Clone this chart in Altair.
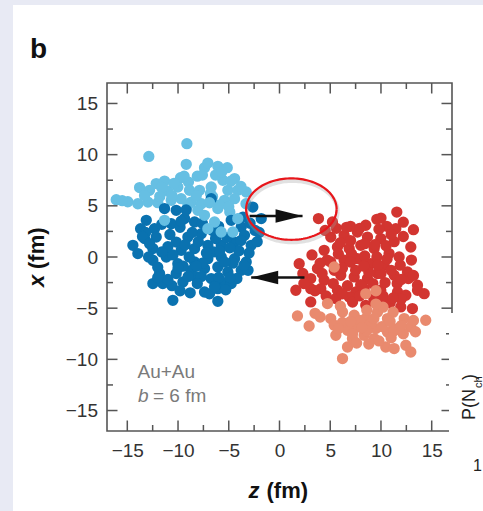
import altair as alt
import numpy as np
import pandas as pd

# Nucleon positions (z, x) in fm for the two Au nuclei, b = 6 fm
# left nucleus, spectator nucleons (drawn behind)
lb_z = [-9.13, -12.88, -9.19, -7.39, -7.06, -6.08, -5.15, -9.75, -8.97, -12.15,
        -11.33, -13.79, -12.81, -11.0, -10.02, -8.87, -7.88, -6.73, -5.58, -4.43,
        -5.09, -4.11, -3.28, -16.09, -14.95, -13.96, -12.97, -11.99, -10.67, -9.69,
        -8.7, -7.7, -5.42, -4.43, -9.03, -6.08, -8.05, -3.3, -6.6, -4.9,
        -8.1, -10.6, -6.3,
        -15.5, -13.3, -11.6, -10.4, -9.4, -7.6, -5.7, -4.8, -3.8, -11.8,
        -8.2, -6.8, -5.9]
lb_x = [11.07, 9.83, 9.05, 8.73, 9.18, 8.86, 8.73, 7.75, 7.32, 7.17,
        7.42, 6.78, 6.51, 6.45, 6.84, 6.51, 6.51, 6.84, 7.49, 7.66,
        6.51, 6.51, 6.35, 5.6, 5.4, 5.2, 5.37, 5.31, 5.54, 5.7,
        5.37, 5.2, 5.54, 5.7, 5.05, 4.73, 4.56, 5.2, 5.9, 4.4,
        7.9, 6.0, 8.0,
        5.5, 6.0, 6.8, 7.2, 7.9, 8.0, 8.3, 7.4, 6.9, 5.9,
        6.0, 6.2, 5.1]

# left nucleus, participant nucleons
db_z = [-6.73, -11.33, -10.18, -13.13, -13.69, -12.32, -10.67, -9.36, -8.37, -4.76,
        -3.77, -2.63, -1.8, -14.45, -13.3, -12.15, -13.96, -12.48, -12.48, -11.16,
        -10.18, -9.03, -7.71, -9.69, -8.37, -7.06, -5.74, -4.43, -3.45, -2.79,
        -3.28, -4.43, -5.74, -7.06, -8.37, -10.02, -11.82, -10.18, -8.7, -7.39,
        -6.08, -5.09, -3.77, -12.48, -11.5, -9.52, -8.21, -6.73, -5.75, -4.76,
        -7.39, -6.08, -10.51, -6.08,
        -9.5, -6.5, -5.2, -8.0, -9.8, -11.0, -6.0, -4.6, -3.0, -7.7,
        -9.0, -10.6, -8.8, -6.9, -5.3, -12.9, -2.4, -2.2, -3.6, -7.6,
        -10.8, -8.9, -6.3, -4.0, -11.6, -3.1, -9.2, -7.6, -12.0, -13.2,
        -4.2, -5.4,
        -13.5, -12.8, -11.6, -10.5, -9.3, -8.6, -6.6, -5.9, -4.9, -3.8,
        -3.5, -4.9, -6.4, -8.1, -9.8, -11.0, -12.0, -10.0, -7.2, -8.2,
        -2.9, -2.0, -6.0, -9.7]
db_x = [5.7, 4.73, 4.56, 3.58, 2.77, 2.77, 3.26, 3.75, 3.42, 3.58,
        2.93, 4.88, 3.75, 1.14, 1.8, 1.95, 0.33, 0.82, -0.32, 0.0,
        1.46, 1.95, 2.28, 0.65, 0.82, 1.14, 1.14, 1.46, 2.12, 1.14,
        -0.49, -0.16, 0.0, -0.16, -0.49, -0.65, -1.62, -1.62, -1.3, -1.13,
        -0.98, -1.46, -1.3, -2.6, -2.6, -2.44, -1.95, -2.11, -2.44, -2.6,
        -3.42, -3.09, -4.23, -4.33,
        -0.9, 0.5, 1.9, 1.5, 2.9, 1.0, -2.0, -0.6, 0.4, -1.9,
        -1.9, -2.8, -3.5, -3.6, -3.2, 0.0, 2.6, 1.5, 3.9, -0.6,
        2.2, 0.0, 1.8, 0.6, 3.2, -1.3, 4.6, 3.3, -1.0, 2.4,
        -2.1, -0.5,
        2.0, 1.3, 0.5, 0.2, 1.2, 2.4, 2.6, 0.6, 0.9, 1.6,
        -0.8, -2.0, -2.9, -2.6, -3.3, -2.2, -2.0, -1.1, 0.4, -0.9,
        3.3, 2.4, 3.0, 3.5]

# left nucleus, spectators lying in front of the participants
lf_z = [-11.33, -7.39, -6.4, -5.75, -7.06, -4.6, -4.11, -5.0, -6.9]
lf_x = [3.58, 4.07, 3.42, 2.44, 2.77, 2.44, 3.75, 4.9, 5.3]

# right nucleus, participant nucleons
dr_z = [3.84, 11.56, 9.59, 10.57, 11.46, 13.2, 12.94, 5.22, 5.05, 6.37,
        7.68, 8.67, 9.98, 4.4, 5.71, 6.87, 8.01, 9.33, 10.8, 11.79,
        1.94, 3.74, 5.05, 6.37, 7.68, 8.99, 10.31, 12.61, 3.08, 4.4,
        6.04, 7.36, 8.67, 9.66, 11.3, 13.6,
        1.61, 3.08, 4.07, 5.71, 7.52, 8.34, 9.98, 11.63, 12.45, 13.6,
        14.26, 3.08, 5.55, 6.87, 8.5, 10.31, 11.95, 13.1,
        6.0, 7.0, 8.4, 9.4, 10.5, 11.3, 4.7, 5.8, 7.1, 8.4,
        9.6, 10.6, 11.9, 4.2, 5.3, 6.7, 8.0, 9.2, 10.4, 11.6,
        12.7, 2.4, 4.6, 7.2, 9.3, 10.9, 6.2, 7.5, 8.8, 10.0,
        5.6, 7.0, 8.5, 12.2, 11.0, 13.0, 12.0,
        4.5, 6.6, 7.9, 9.8, 10.0, 12.2, 3.2, 4.0, 5.4, 7.0,
        8.3, 9.7, 11.0, 12.0, 13.2, 3.5, 6.2, 7.9, 10.2, 11.2,
        2.3]
dr_x = [3.75, 4.39, 3.68, 3.0, 2.77, 2.67, 0.98, 3.42, 1.95, 2.12,
        2.44, 1.95, 1.8, 0.65, 0.98, 0.82, 1.14, 0.82, 0.33, 0.0,
        -0.65, -1.13, -0.49, -0.32, -0.16, -0.65, -0.81, -1.46, -2.11, -2.27,
        -1.79, -1.95, -2.11, -1.62, -1.79, -2.76,
        -3.25, -3.09, -3.09, -3.25, -3.42, -3.09, -3.25, -3.42, -3.74, -3.25,
        -3.58, -4.39, -4.06, -3.9, -4.72, -4.23, -4.88, -5.04,
        1.4, 1.6, 1.3, 1.2, 1.1, 1.5, -0.3, 0.3, 0.3, 0.1,
        0.0, -0.2, -0.8, -1.6, -2.6, -2.8, -2.7, -2.6, -2.5, -2.6,
        -2.1, -2.6, -3.8, -4.4, -4.1, -4.5, -1.1, -1.3, -1.5, -1.6,
        2.8, 3.0, 3.1, 2.0, 2.2, -0.3, -4.1,
        2.6, 2.9, 2.8, 2.7, 3.8, 3.4, 0.2, -0.6, -1.3, -0.5,
        -0.9, -0.8, -1.3, -2.2, -1.8, -3.3, -3.6, -3.8, -3.8, -4.0,
        -1.6]

# right nucleus, spectator nucleons
sa_z = [5.39, 1.77, 2.92, 4.01, 5.05, 4.73, 6.21, 7.36, 8.5, 9.66,
        10.64, 12.29, 14.41, 5.55, 6.7, 7.68, 9.49, 10.64, 6.7, 6.21,
        10.47, 11.3, 12.45, 12.94, 5.39, 8.34, 9.33, 7.19, 11.63, 12.94,
        6.2, 7.9, 9.0, 10.1, 11.3, 8.6, 7.2, 9.8, 11.0, 8.8,
        7.6, 12.2, 13.4, 6.0, 8.6, 11.2, 10.2, 9.5, 8.5, 9.5,
        3.5, 5.8, 7.0, 8.1, 9.3, 10.9, 12.0, 13.2]
sa_x = [-0.98, -5.76, -6.74, -5.86, -6.02, -4.55, -5.37, -5.69, -6.02, -5.37,
        -6.02, -6.02, -6.18, -7.65, -7.16, -6.84, -6.99, -7.32, -8.79, -9.92,
        -8.79, -8.95, -8.62, -9.28, -6.67, -7.65, -7.97, -7.97, -6.99, -6.84,
        -6.4, -6.2, -6.5, -6.8, -7.2, -7.2, -7.5, -8.2, -7.9, -8.5,
        -8.4, -7.5, -7.3, -4.8, -5.2, -5.4, -4.9, -4.6, -3.6, -3.3,
        -5.5, -7.0, -6.3, -6.9, -6.0, -6.3, -6.7, -6.2]

group_names = ["spectator L", "participant L", "spectator L front",
               "participant R", "spectator R"]
group_colors = ["#66bfe3", "#0a72b0", "#66bfe3", "#d23530", "#e98a6e"]

# arrows showing the direction of motion of each nucleus
arrow_tail = [-2.95, 2.46]
arrow_tip = [2.27, -2.79]
arrow_x = [4.0, -2.0]
arrow_angle = [0, 180]

# highlighted region
ring_center = (1.17, 4.68)
ring_radii = (4.46, 3.0)

major_ticks = [-15, -10, -5, 0, 5, 10, 15]
minor_ticks = [-12.5, -7.5, -2.5, 2.5, 7.5, 12.5]

W, H = 345, 348
FONT = "Liberation Sans"
FRAME = "#555555"

rows = []
for name, zs, xs in zip(group_names,
                        [lb_z, db_z, lf_z, dr_z, sa_z],
                        [lb_x, db_x, lf_x, dr_x, sa_x]):
    for z, x in zip(zs, xs):
        rows.append({"z": z, "x": x, "group": name, "k": len(rows)})
nucleons = pd.DataFrame(rows)

xscale = alt.Scale(domain=[-17, 17], nice=False, zero=False)
yscale = alt.Scale(domain=[-17, 17], nice=False, zero=False)

xaxis = alt.Axis(values=major_ticks, ticks=False, tickSize=0, domain=False,
                 grid=False, labelFont=FONT, labelFontSize=19,
                 labelColor="#333333", labelPadding=10.5, labelFlush=False,
                 labelOverlap=False, title=None)
yaxis = alt.Axis(values=major_ticks, ticks=False, tickSize=0, domain=False,
                 grid=False, labelFont=FONT, labelFontSize=19,
                 labelColor="#333333", labelPadding=9.5, labelFlush=False,
                 labelOverlap=False, title=None)


def zx(field):
    return alt.X(field, scale=xscale, axis=xaxis)


def xy(field):
    return alt.Y(field, scale=yscale, axis=yaxis)


points = alt.Chart(nucleons).mark_circle(size=128, opacity=1).encode(
    x=zx("z:Q"),
    y=xy("x:Q"),
    color=alt.Color("group:N", scale=alt.Scale(domain=group_names,
                                               range=group_colors),
                    legend=None),
    order=alt.Order("k:Q"),
)

arrows = pd.DataFrame({"tail": arrow_tail, "tip": arrow_tip,
                       "x": arrow_x, "angle": arrow_angle})
shafts = alt.Chart(arrows).mark_rule(color="#111111", strokeWidth=2.6).encode(
    x=zx("tail:Q"),
    x2="tip:Q",
    y=xy("x:Q"),
)
heads = alt.Chart(arrows).mark_point(
    shape="M0,0L-2,-0.5L-2,0.5Z", filled=True, size=729,
    color="#111111", opacity=1, strokeWidth=0,
).encode(
    x=zx("tip:Q"),
    y=xy("x:Q"),
    angle=alt.Angle("angle:Q", scale=None),
)

t = np.linspace(0, 2 * np.pi, 145)
ring = pd.DataFrame({
    "z": ring_center[0] + ring_radii[0] * np.cos(t),
    "x": ring_center[1] + ring_radii[1] * np.sin(t),
    "i": np.arange(len(t)),
})
ring_shadow = alt.Chart(ring).mark_line(
    color="#9a9a9a", strokeWidth=4, opacity=0.3, xOffset=1, yOffset=2.5
).encode(x=zx("z:Q"), y=xy("x:Q"), order="i:Q")
ring_line = alt.Chart(ring).mark_line(color="#e8161b", strokeWidth=2.2).encode(
    x=zx("z:Q"), y=xy("x:Q"), order="i:Q")

frame = alt.Chart(pd.DataFrame({"a": [0]})).mark_rect(
    fill="transparent", stroke=FRAME, strokeWidth=1.6
).encode(x=alt.value(0), x2=alt.value(W), y=alt.value(0), y2=alt.value(H))


def tick_layer(values, side, length):
    df = pd.DataFrame({"v": values})
    base = alt.Chart(df).mark_rule(color=FRAME, strokeWidth=1.5)
    if side in ("bottom", "top"):
        y0 = H if side == "bottom" else 0
        y1 = y0 - length if side == "bottom" else length
        return base.encode(x=zx("v:Q"), y=alt.value(y0), y2=alt.value(y1))
    x0 = 0 if side == "left" else W
    x1 = length if side == "left" else W - length
    return base.encode(y=xy("v:Q"), x=alt.value(x0), x2=alt.value(x1))


ticks = []
for side in ("bottom", "top", "left", "right"):
    ticks.append(tick_layer(major_ticks, side, 10.5))
    ticks.append(tick_layer(minor_ticks, side, 6))


def text(txt, x, y, size, weight="normal", style="normal", color="#222222",
         angle=0):
    return alt.Chart(pd.DataFrame({"t": [txt]})).mark_text(
        align="left", baseline="alphabetic", font=FONT, fontSize=size,
        fontWeight=weight, fontStyle=style, color=color, angle=angle,
    ).encode(x=alt.value(x), y=alt.value(y), text="t:N")


labels = [
    text("b", -77, -25, 28, weight="bold", color="#111111"),
    text("z", 141.5, 415, 22, weight="bold", style="italic", color="#111111"),
    text("(fm)", 159.5, 415, 22, weight="bold", color="#111111"),
    text("x", -63, 204, 22, weight="bold", style="italic", color="#111111",
         angle=270),
    text("(fm)", -63, 186, 22, weight="bold", color="#111111", angle=270),
    text("Au+Au", 30.5, 295, 19, color="#7a7a7a"),
    text("b", 31, 318.5, 19, style="italic", color="#7a7a7a"),
    text("= 6 fm", 46, 318.5, 19, color="#7a7a7a"),
]

# page edge and the neighbouring panel
edge_color = "#e8eaf4"
left_edge = alt.Chart(pd.DataFrame({"a": [0]})).mark_rect(
    color=edge_color).encode(x=alt.value(-107), x2=alt.value(-94),
                             y=alt.value(-83), y2=alt.value(H + 80))
top_edge = alt.Chart(pd.DataFrame({"a": [0]})).mark_rect(
    color=edge_color).encode(x=alt.value(-107), x2=alt.value(W + 31),
                             y=alt.value(-83), y2=alt.value(-78))
cover = alt.Chart(pd.DataFrame({"a": [0]})).mark_rect(
    color="white").encode(x=alt.value(342), x2=alt.value(W + 31),
                          y=alt.value(230), y2=alt.value(H + 80))
neighbour = [
    text("P(N", 368, 337, 18, color="#222222", angle=270),
    text("ch", 375, 305, 11, color="#222222", angle=270),
    text(")", 368, 297, 18, color="#222222", angle=270),
    text("1", 366, 388, 16, color="#222222"),
]

chart = alt.layer(
    left_edge, top_edge, points, shafts, heads, ring_shadow, ring_line,
    frame, *ticks, *labels, cover, *neighbour,
).properties(
    width=W, height=H,
    padding={"left": 107, "top": 83, "right": 31, "bottom": 80},
    autosize=alt.AutoSizeParams(type="none"),
    background="white",
).configure_view(stroke="transparent")

chart.save("out.html", embed_options={"renderer": "svg", "actions": False})
